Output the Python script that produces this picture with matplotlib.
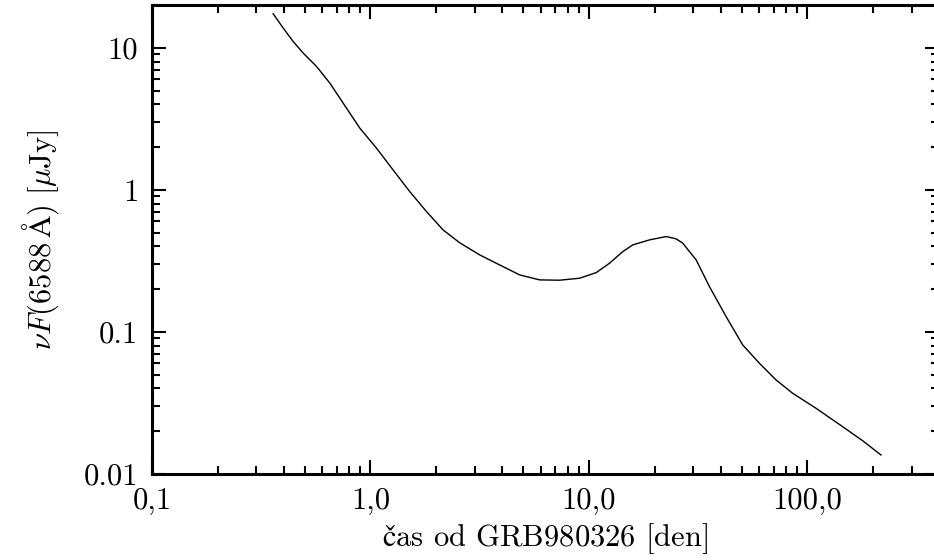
import numpy as np
import matplotlib
matplotlib.use("Agg")
import matplotlib.pyplot as plt
from matplotlib.ticker import LogLocator, NullFormatter, FixedLocator, FixedFormatter

# krivka zjasneni
cas = [0.3586, 0.3985, 0.4426, 0.4917, 0.5664, 0.6515, 0.7496, 0.8935, 1.065, 1.268,
       1.512, 1.804, 2.148, 2.561, 3.16, 3.90, 4.816, 5.945, 7.337, 9.06,
       10.80, 12.42, 14.29, 15.88, 18.93, 22.57, 25.07, 26.88, 28.84, 30.95,
       35.60, 42.44, 50.54, 60.26, 71.84, 85.56, 109.5, 144.9, 178.8, 217.0]
tok = [17.36, 13.76, 11.08, 9.18, 7.385, 5.64, 4.08, 2.72, 1.967, 1.383,
       0.973, 0.7035, 0.5227, 0.424, 0.3485, 0.2962, 0.252, 0.2324, 0.2312, 0.2388,
       0.2616, 0.3046, 0.3677, 0.410, 0.4445, 0.469, 0.4519, 0.4213, 0.3677, 0.3214,
       0.2084, 0.1281, 0.0810, 0.0602, 0.0459, 0.0370, 0.0290, 0.02153, 0.01716, 0.01361]

x_ticks = [0.1, 1.0, 10.0, 100.0]
x_labels = ["0,1", "1,0", "10,0", "100,0"]
y_ticks = [0.01, 0.1, 1, 10]
y_labels = ["0.01", "0.1", "1", "10"]

plt.rcParams["font.family"] = ["cmr10", "DejaVu Serif"]
plt.rcParams["mathtext.fontset"] = "cm"
plt.rcParams["axes.formatter.use_mathtext"] = True

fig = plt.figure(figsize=(9.34, 5.6), dpi=100)
ax = fig.add_axes([152 / 934, 86 / 560, 787 / 934, 469 / 560])

ax.plot(cas, tok, color="black", lw=1.0, solid_joinstyle="round")

ax.set_xscale("log")
ax.set_yscale("log")
ax.set_xlim(0.1, 400)
ax.set_ylim(0.01, 20)

ax.xaxis.set_major_locator(FixedLocator(x_ticks))
ax.xaxis.set_major_formatter(FixedFormatter(x_labels))
ax.yaxis.set_major_locator(FixedLocator(y_ticks))
ax.yaxis.set_major_formatter(FixedFormatter(y_labels))
ax.xaxis.set_minor_locator(LogLocator(base=10, subs=np.arange(2, 10), numticks=20))
ax.yaxis.set_minor_locator(LogLocator(base=10, subs=np.arange(2, 10), numticks=20))
ax.xaxis.set_minor_formatter(NullFormatter())
ax.yaxis.set_minor_formatter(NullFormatter())

ax.tick_params(which="both", direction="in", top=True, right=True, width=1.5,
               labelsize=22, pad=10)
ax.tick_params(which="major", length=10)
ax.tick_params(which="minor", length=5.5)

for s in ax.spines.values():
    s.set_linewidth(2.2)

ax.set_xlabel(r"$\mathrm{č}$as od GRB980326 [den]", fontsize=22, labelpad=4)
ax.set_ylabel(r"$\nu F(6588\,\mathrm{Å})\ [\mu\mathrm{Jy}]$", fontsize=22, labelpad=16)

fig.savefig("out.png", dpi=100)
